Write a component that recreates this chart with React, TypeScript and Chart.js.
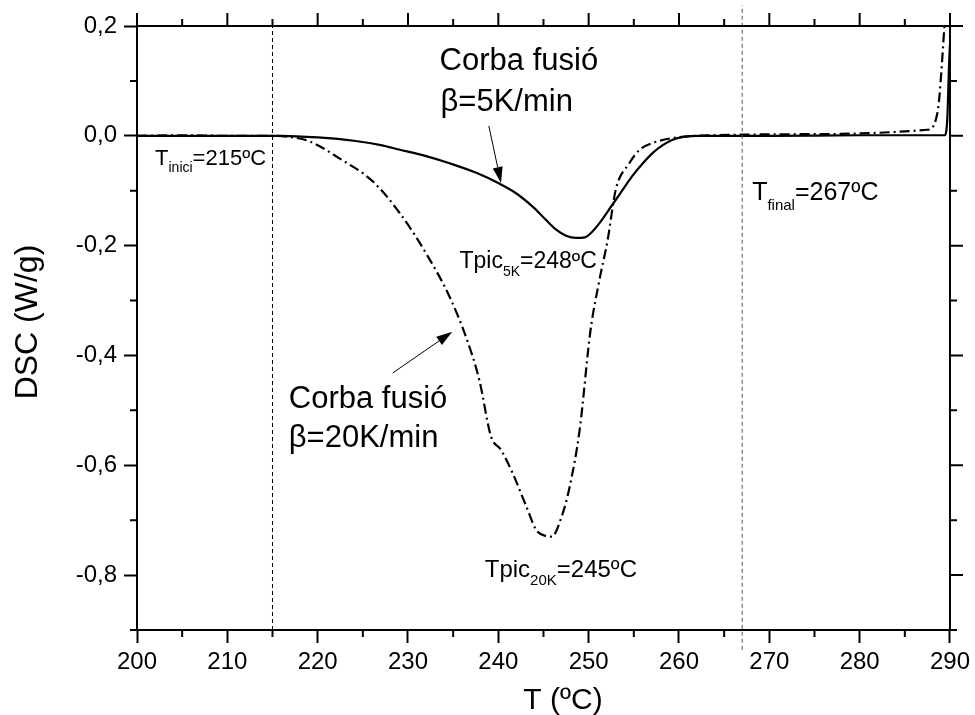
import React, { useEffect, useRef } from 'react';
import { Chart, registerables } from 'chart.js';

Chart.register(...registerables);

// ---- Data ----
const xMajorTicks = [200, 210, 220, 230, 240, 250, 260, 270, 280, 290];
const xMinorTicks = [205, 215, 225, 235, 245, 255, 265, 275, 285];
const yMajorTicks = [-0.8, -0.6, -0.4, -0.2, 0, 0.2];
const yMinorTicks = [-0.9, -0.7, -0.5, -0.3, -0.1, 0.1];

// 5 K/min curve (solid)
const temp5K = [200, 205, 210, 216, 220, 224, 227, 229, 232, 234.6, 237.5, 240.1, 242, 243.8, 245.2, 246.4, 247.5, 248.6, 249.6, 250.2, 251.2, 252.6, 253.7, 254.8, 256, 257.1, 258.2, 259.3, 260.5, 262.3, 270, 280, 289.4, 289.7, 289.9, 290.1];
const dsc5K = [0, 0, 0, 0, -0.003, -0.009, -0.017, -0.025, -0.037, -0.05, -0.067, -0.087, -0.105, -0.129, -0.152, -0.171, -0.182, -0.186, -0.185, -0.178, -0.159, -0.126, -0.1, -0.074, -0.05, -0.031, -0.017, -0.007, -0.002, 0, 0, 0.001, 0.001, 0.03, 0.13, 0.2];

// 20 K/min curve (dash-dot)
const temp20K = [200, 205, 210, 215, 216.9, 219.1, 222.4, 226.1, 229.1, 232, 234.6, 236.5, 237.9, 239.2, 240.3, 241.6, 243.1, 244.2, 245.3, 245.9, 247, 247.9, 249, 250.2, 251.2, 252.1, 253, 254.5, 255.6, 257.1, 259.3, 262, 275, 287.5, 288.6, 289.6];
const dsc20K = [0, 0.001, 0, 0, -0.002, -0.01, -0.041, -0.083, -0.141, -0.214, -0.293, -0.37, -0.445, -0.548, -0.572, -0.615, -0.675, -0.718, -0.729, -0.73, -0.694, -0.639, -0.536, -0.355, -0.262, -0.19, -0.098, -0.05, -0.026, -0.013, -0.004, 0, 0.003, 0.011, 0.041, 0.25];

// vertical markers
const tInici = 215;
const tFinal = 267;

const FONT = '"Liberation Sans", Arial, sans-serif';

const fmt = (v: number) => v.toFixed(1).replace('.', ',');

type Part = { t: string; size: number; dy: number };
const richLabels: { T: number; v: number; parts: Part[] }[] = [
  { T: 202.0, v: -0.054, parts: [{ t: 'T', size: 22, dy: 0 }, { t: 'inici', size: 14, dy: 7 }, { t: '=215ºC', size: 22, dy: 0 }] },
  { T: 268.1, v: -0.117, parts: [{ t: 'T', size: 25, dy: 0 }, { t: 'final', size: 15, dy: 10 }, { t: '=267ºC', size: 25, dy: 0 }] },
  { T: 235.7, v: -0.241, parts: [{ t: 'Tpic', size: 23, dy: 0 }, { t: '5K', size: 14, dy: 8 }, { t: '=248ºC', size: 23, dy: 0 }] },
  { T: 238.5, v: -0.804, parts: [{ t: 'Tpic', size: 24, dy: 0 }, { t: '20K', size: 15, dy: 8 }, { t: '=245ºC', size: 24, dy: 0 }] },
  { T: 233.5, v: 0.12, parts: [{ t: 'Corba fusió', size: 31, dy: 0 }] },
  { T: 233.6, v: 0.046, parts: [{ t: 'β=5K/min', size: 31, dy: 0 }] },
  { T: 216.8, v: -0.495, parts: [{ t: 'Corba fusió', size: 31, dy: 0 }] },
  { T: 216.8, v: -0.567, parts: [{ t: 'β=20K/min', size: 31, dy: 0 }] },
];

const arrows = [
  { T1: 238.95, v1: 0.018, T2: 240.3, v2: -0.086 },
  { T1: 228.3, v1: -0.432, T2: 234.9, v2: -0.357 },
];

const decorPlugin = {
  id: 'decor',
  afterDatasetsDraw(chart: any) {
    const { ctx, chartArea: a, scales } = chart;
    const x = scales.x;
    const y = scales.y;
    ctx.save();
    ctx.strokeStyle = '#000';
    ctx.fillStyle = '#000';
    ctx.lineWidth = 2;
    // top & right border
    ctx.beginPath();
    ctx.moveTo(a.left - 1, a.top);
    ctx.lineTo(a.right + 1, a.top);
    ctx.moveTo(a.right, a.top);
    ctx.lineTo(a.right, a.bottom + 1);
    ctx.stroke();
    const MAJ = 13;
    const MIN = 7;
    ctx.beginPath();
    xMajorTicks.forEach((t) => {
      const px = x.getPixelForValue(t);
      ctx.moveTo(px, a.top);
      ctx.lineTo(px, a.top - MAJ);
    });
    xMinorTicks.forEach((t) => {
      const px = x.getPixelForValue(t);
      ctx.moveTo(px, a.top);
      ctx.lineTo(px, a.top - MIN);
      ctx.moveTo(px, a.bottom);
      ctx.lineTo(px, a.bottom + MIN);
    });
    yMajorTicks.forEach((v) => {
      const py = y.getPixelForValue(v);
      ctx.moveTo(a.right, py);
      ctx.lineTo(a.right + MAJ, py);
    });
    yMinorTicks.forEach((v) => {
      const py = y.getPixelForValue(v);
      ctx.moveTo(a.right, py);
      ctx.lineTo(a.right + MIN, py);
      ctx.moveTo(a.left, py);
      ctx.lineTo(a.left - MIN, py);
    });
    ctx.stroke();

    // arrows
    ctx.lineWidth = 1;
    arrows.forEach((ar) => {
      const x1 = x.getPixelForValue(ar.T1);
      const y1 = y.getPixelForValue(ar.v1);
      const x2 = x.getPixelForValue(ar.T2);
      const y2 = y.getPixelForValue(ar.v2);
      const ang = Math.atan2(y2 - y1, x2 - x1);
      const L = 16;
      const W = 5;
      const bx = x2 - L * Math.cos(ang);
      const by = y2 - L * Math.sin(ang);
      ctx.beginPath();
      ctx.moveTo(x1, y1);
      ctx.lineTo(bx, by);
      ctx.stroke();
      ctx.beginPath();
      ctx.moveTo(x2, y2);
      ctx.lineTo(bx + W * Math.sin(ang), by - W * Math.cos(ang));
      ctx.lineTo(bx - W * Math.sin(ang), by + W * Math.cos(ang));
      ctx.closePath();
      ctx.fill();
    });

    // labels
    ctx.textBaseline = 'alphabetic';
    ctx.textAlign = 'left';
    richLabels.forEach((lab) => {
      let cx = x.getPixelForValue(lab.T);
      const cy = y.getPixelForValue(lab.v);
      lab.parts.forEach((p) => {
        ctx.font = `${p.size}px ${FONT}`;
        ctx.fillText(p.t, cx, cy + p.dy);
        cx += ctx.measureText(p.t).width;
      });
    });

    // axis titles
    ctx.font = `30px ${FONT}`;
    ctx.textAlign = 'center';
    ctx.fillText('T (ºC)', 563, 709);
    ctx.save();
    ctx.font = `32px ${FONT}`;
    ctx.translate(37, 322);
    ctx.rotate(-Math.PI / 2);
    ctx.fillText('DSC (W/g)', 0, 0);
    ctx.restore();

    ctx.restore();
  },
};

export default function App() {
  const ref = useRef<HTMLCanvasElement | null>(null);
  useEffect(() => {
    if (!ref.current) return;
    const chart = new Chart(ref.current, {
      type: 'line',
      data: {
        datasets: [
          {
            label: 'Tinici',
            data: [{ x: tInici, y: -0.9 }, { x: tInici, y: 0.211 }],
            borderColor: '#000',
            borderWidth: 1,
            borderDash: [4, 3],
            pointRadius: 0,
            clip: false as any,
          },
          {
            label: 'Tfinal',
            data: [{ x: tFinal, y: -0.936 }, { x: tFinal, y: 0.238 }],
            borderColor: '#555',
            borderWidth: 1,
            borderDash: [4, 3],
            pointRadius: 0,
            clip: false as any,
          },
          {
            label: '5K/min',
            data: temp5K.map((t, i) => ({ x: t, y: dsc5K[i] })),
            borderColor: '#000',
            borderWidth: 2.2,
            pointRadius: 0,
            cubicInterpolationMode: 'monotone',
          },
          {
            label: '20K/min',
            data: temp20K.map((t, i) => ({ x: t, y: dsc20K[i] })),
            borderColor: '#000',
            borderWidth: 2.2,
            borderDash: [10, 4, 2, 4],
            pointRadius: 0,
            cubicInterpolationMode: 'monotone',
          },
        ],
      },
      options: {
        animation: false,
        responsive: false,
        devicePixelRatio: 1,
        layout: { padding: { left: 0, top: 26, right: 24, bottom: 0 } },
        plugins: { legend: { display: false }, tooltip: { enabled: false }, title: { display: false } },
        scales: {
          x: {
            type: 'linear',
            min: 200,
            max: 290,
            afterBuildTicks: (s: any) => {
              s.ticks = xMajorTicks.map((value) => ({ value }));
            },
            afterFit: (s: any) => {
              s.height = 85;
            },
            ticks: { color: '#000', font: { family: FONT, size: 24 }, padding: 5, maxRotation: 0, autoSkip: false },
            grid: { display: true, drawOnChartArea: false, drawTicks: true, tickLength: 13, tickWidth: 2, tickColor: '#000' },
            border: { display: true, color: '#000', width: 2 },
          },
          y: {
            type: 'linear',
            min: -0.9,
            max: 0.2,
            afterBuildTicks: (s: any) => {
              s.ticks = yMajorTicks.map((value) => ({ value }));
            },
            afterFit: (s: any) => {
              s.width = 137;
            },
            ticks: { color: '#000', font: { family: FONT, size: 24 }, padding: 7, autoSkip: false, callback: (v: any) => fmt(Number(v)) },
            grid: { display: true, drawOnChartArea: false, drawTicks: true, tickLength: 13, tickWidth: 2, tickColor: '#000' },
            border: { display: true, color: '#000', width: 2 },
          },
        },
      },
      plugins: [decorPlugin],
    } as any);
    return () => chart.destroy();
  }, []);
  return (
    <div style={{ position: 'fixed', left: 0, top: 0, width: 975, height: 715, background: '#fff' }}>
      <canvas ref={ref} width={975} height={715} style={{ display: 'block' }} />
    </div>
  );
}
